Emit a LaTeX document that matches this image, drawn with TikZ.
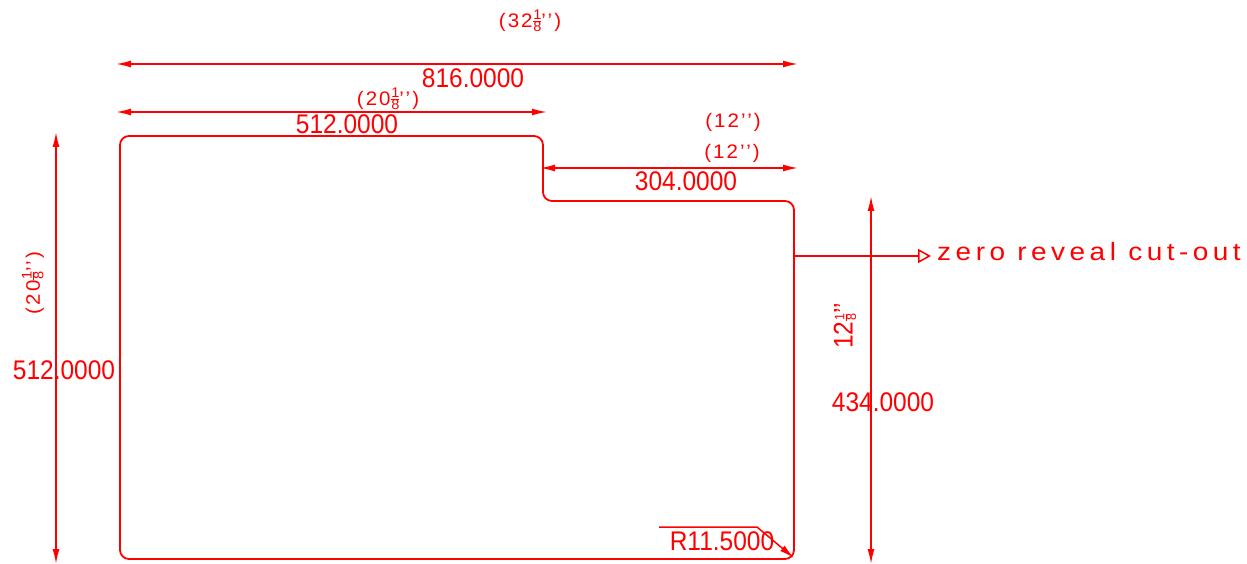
\documentclass[tikz,border=0pt]{standalone}
\usepackage{fontspec}
\usetikzlibrary{arrows.meta}
\newfontfamily\cad{Liberation Sans}
\newfontfamily\cadsmall[LetterSpace=10]{Liberation Sans}
\newfontfamily\cadnote[LetterSpace=16]{Liberation Sans}
\definecolor{cadred}{RGB}{255,0,0}
\newcommand\bigt[1]{\scalebox{1}[1.1]{\fontsize{24.5}{25}\cad #1}}
\newcommand\smallt[1]{\scalebox{1.17}[1.12]{\fontsize{17.5}{18}\cadsmall #1}}
\newcommand\notet[1]{\scalebox{1.4}[1.25]{\fontsize{20}{21}\cadnote #1}}
\newcommand\frc{\hbox{\fontsize{12.5}{12.5}\cad\rlap{\raisebox{7.5pt}{\kern.6pt 1}}\rlap{\raisebox{-3pt}{\kern.6pt 8}}\rule[5.6pt]{7.6pt}{.9pt}}}
\tikzset{
  part/.style={draw=cadred,line width=1.8pt},
  dimline/.style={draw=cadred,line width=1.5pt,{Latex[length=15pt,width=7pt]}-{Latex[length=15pt,width=7pt]}},
  leader/.style={draw=cadred,line width=1.5pt},
  lab/.style={text=cadred,inner sep=0pt,anchor=center},
}
\begin{document}
\begin{tikzpicture}[x=1pt,y=-1pt]
\useasboundingbox (0,0) rectangle (1247,564);
% outline
\draw[part,rounded corners=9pt] (120,136) -- (543,136) -- (543,201) -- (794,201) -- (794,559) -- (120,559) -- cycle;
% dimension anchors
\coordinate (a1) at (116,64); \coordinate (a2) at (798,64);
\coordinate (b1) at (116,112); \coordinate (b2) at (547,112);
\coordinate (c1) at (540,168); \coordinate (c2) at (798,168);
\coordinate (d1) at (56,132); \coordinate (d2) at (56,564);
\coordinate (e1) at (871,196); \coordinate (e2) at (871,564);
\draw[dimline] (a1) -- (a2);
\draw[dimline] (b1) -- (b2);
\draw[dimline] (c1) -- (c2);
\draw[dimline] (d1) -- (d2);
\draw[dimline] (e1) -- (e2);
% leaders
\coordinate (f1) at (794,256); \coordinate (f2) at (931,256);
\draw[leader,-{Triangle[open,length=13pt,width=14pt]}] (f1) -- (f2);
\coordinate (g1) at (659,527); \coordinate (g2) at (757,527); \coordinate (g3) at (794,558);
\draw[leader,-{Latex[length=15pt,width=7pt]}] (g1) -- (g2) -- (g3);
% labels
\node[lab] (t1) at (530,21) {\smallt{(32\frc’’)}};
\node[lab] (t2) at (473,78) {\bigt{816.0000}};
\node[lab] (t3) at (388,99) {\smallt{(20\frc’’)}};
\node[lab] (t4) at (347,124) {\bigt{512.0000}};
\node[lab] (t5) at (733,122) {\smallt{(12’’)}};
\node[lab] (t6) at (732,153) {\smallt{(12’’)}};
\node[lab] (t7) at (686,181) {\bigt{304.0000}};
\node[lab,rotate=90] (t8) at (33,283) {\smallt{(20\frc’’)}};
\node[lab] (t9) at (64,370) {\bigt{512.0000}};
\node[lab,rotate=90] (t10) at (845,326) {\bigt{12\frc’’}};
\node[lab] (t11) at (883,402) {\bigt{434.0000}};
\node[lab] (t12) at (722,541) {\bigt{R11.5000}};
\node[lab] (t13) at (1089,252) {\notet{zero reveal cut-out}};
\end{tikzpicture}
\end{document}
